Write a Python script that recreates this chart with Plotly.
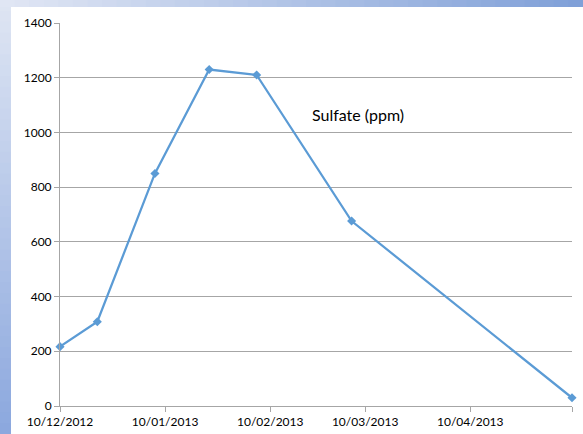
import plotly.graph_objects as go

sample_dates = ["2012-12-10", "2012-12-21", "2013-01-07", "2013-01-23",
                "2013-02-06", "2013-03-06", "2013-05-10"]
sulfate_ppm = [217, 308, 850, 1230, 1210, 676, 30]

tick_dates = ["2012-12-10", "2013-01-10", "2013-02-10", "2013-03-10",
              "2013-04-10", "2013-05-10"]
tick_labels = ["10/12/2012", "10/01/2013", "10/02/2013", "10/03/2013",
               "10/04/2013", ""]

W, H = 583, 434
L, R, T, B = 60, 11, 23, 28
pw, ph = W - L - R, H - T - B

def px2x(px):
    return (px - L) / pw

def py2y(py):
    return 1 + (T - py) / ph

def lerp(c1, c2, t):
    return "rgb(%d,%d,%d)" % tuple(round(a + (b - a) * t) for a, b in zip(c1, c2))

shapes = []
n = 40
# left strip gradient (vertical)
top_c, bot_c = (222, 229, 243), (140, 168, 222)
for i in range(n):
    y0 = H * i / n
    y1 = H * (i + 1) / n + 1
    shapes.append(dict(type="rect", xref="paper", yref="paper",
                       x0=px2x(0), x1=px2x(11), y0=py2y(y1), y1=py2y(y0),
                       fillcolor=lerp(top_c, bot_c, i / (n - 1)), line_width=0,
                       layer="below"))
# top strip gradient (horizontal)
left_c, right_c = (224, 230, 244), (128, 160, 216)
for i in range(n):
    x0 = W * i / n
    x1 = W * (i + 1) / n + 1
    shapes.append(dict(type="rect", xref="paper", yref="paper",
                       x0=px2x(x0), x1=px2x(x1), y0=py2y(7), y1=py2y(0),
                       fillcolor=lerp(left_c, right_c, i / (n - 1)), line_width=0,
                       layer="below"))

fig = go.Figure()
fig.add_trace(go.Scatter(
    x=sample_dates, y=sulfate_ppm, mode="lines+markers",
    line=dict(color="#5b9bd5", width=2.25),
    marker=dict(symbol="diamond", size=7, color="#5b9bd5"),
    cliponaxis=False, showlegend=False,
))

fig.add_annotation(text="Sulfate (ppm)", xref="paper", yref="paper",
                   x=px2x(358), y=py2y(103), showarrow=False,
                   font=dict(family="Lato, Carlito, sans-serif", size=16, color="#000000"))

fig.update_layout(
    width=W, height=H,
    margin=dict(l=L, r=R, t=T, b=B, pad=0, autoexpand=False),
    paper_bgcolor="white", plot_bgcolor="white",
    shapes=shapes,
    font=dict(family="Lato, Carlito, sans-serif", size=12, color="#404040"),
)
fig.update_xaxes(
    type="date", range=["2012-12-10", "2013-05-10"],
    tickvals=tick_dates, ticktext=tick_labels, automargin=False,
    showgrid=False, showline=True, linecolor="#a6a6a6", linewidth=1,
    ticks="outside", ticklen=5, tickcolor="#a6a6a6",
    tickfont=dict(size=12, color="#000000"), zeroline=False,
)
fig.update_yaxes(
    range=[0, 1400], tickvals=[0, 200, 400, 600, 800, 1000, 1200, 1400],
    automargin=False,
    showgrid=True, gridcolor="#a6a6a6", gridwidth=1,
    showline=True, linecolor="#a6a6a6", linewidth=1,
    ticks="outside", ticklen=5, tickcolor="#a6a6a6",
    tickfont=dict(size=12, color="#000000"), zeroline=False,
)

fig.write_html("out.html", config={"displayModeBar": False},
               post_script="document.body.style.margin='0';document.body.style.overflow='hidden';")
